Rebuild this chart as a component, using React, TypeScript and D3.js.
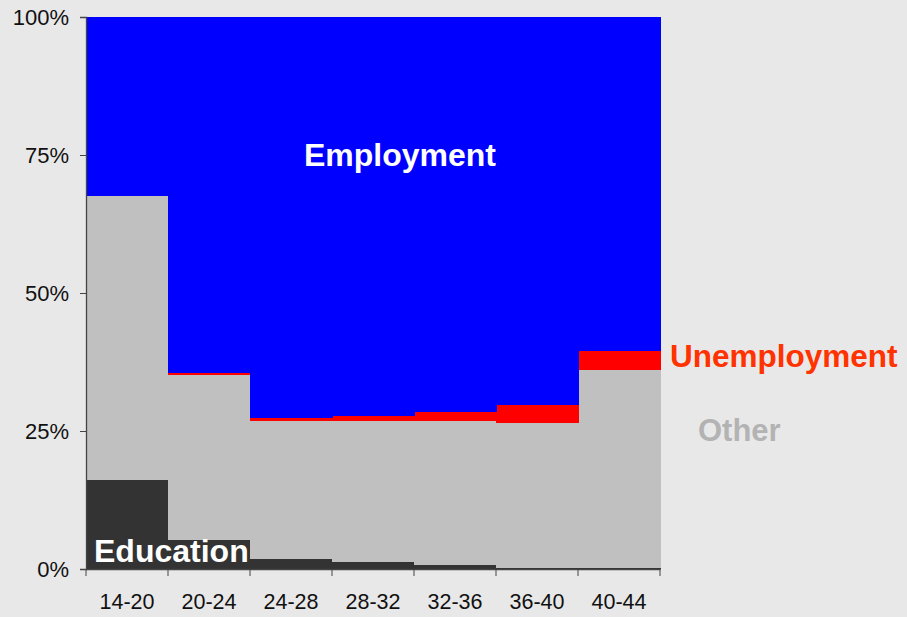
import React, { useRef, useEffect } from "react";
import * as d3 from "d3";

const categories = ["14-20", "20-24", "24-28", "28-32", "32-36", "36-40", "40-44"];
const education = [16.1, 5.25, 1.9, 1.3, 0.75, 0.2, 0.1];
const other = [51.5, 29.95, 24.9, 25.5, 26.05, 26.25, 35.95];
const unemployment = [0, 0.25, 0.55, 0.9, 1.6, 3.25, 3.45];
const yTicks = [0, 0.25, 0.5, 0.75, 1];

const keys = ["Education", "Other", "Unemployment", "Employment"];
const colors = ["#333333", "#c0c0c0", "#ff0000", "#0000ff"];

function App() {
  const svgRef = useRef(null);

  useEffect(() => {
    const svg = d3.select(svgRef.current);
    svg.selectAll("*").remove();

    const rows = categories.map((c, i) => ({
      cat: c,
      Education: education[i] / 100,
      Other: other[i] / 100,
      Unemployment: unemployment[i] / 100,
      Employment: (100 - education[i] - other[i] - unemployment[i]) / 100,
    }));

    const x = d3.scaleBand().domain(categories).range([86, 660]).padding(0);
    const y = d3.scaleLinear().domain([0, 1]).range([569, 17]);
    const color = d3.scaleOrdinal().domain(keys).range(colors);

    const series = d3.stack().keys(keys)(rows);

    svg
      .append("g")
      .selectAll("g")
      .data(series)
      .join("g")
      .attr("fill", (s) => color(s.key))
      .selectAll("rect")
      .data((s) => s)
      .join("rect")
      .attr("x", (d) => x(d.data.cat))
      .attr("y", (d) => y(d[1]))
      .attr("width", x.bandwidth() + 0.5)
      .attr("height", (d) => y(d[0]) - y(d[1]))
      .attr("shape-rendering", "crispEdges");

    const yAxis = svg
      .append("g")
      .attr("transform", "translate(86,0)")
      .call(
        d3.axisLeft(y).tickValues(yTicks).tickFormat(d3.format(".0%")).tickSize(6).tickPadding(11)
      );
    yAxis.selectAll("text").attr("font-size", 22).attr("fill", "#111");

    const xAxis = svg
      .append("g")
      .attr("transform", "translate(0,569)")
      .call(d3.axisBottom(x).tickSize(0).tickPadding(25));
    xAxis.selectAll("text").attr("font-size", 21.5).attr("fill", "#111");

    // boundary ticks between the bars
    const edges = categories.map((c) => x(c)).concat([x.range()[1]]);
    svg
      .append("g")
      .selectAll("line")
      .data(edges)
      .join("line")
      .attr("x1", (d) => d)
      .attr("x2", (d) => d)
      .attr("y1", 569)
      .attr("y2", 576)
      .attr("stroke", "#444");

    svg.selectAll(".domain").attr("stroke", "#444").attr("stroke-width", 1.3);
    svg.selectAll(".tick line").attr("stroke", "#444");
    svg.selectAll("text").attr("font-family", "'Liberation Sans', Arial, sans-serif");
  }, []);

  const labelFont = "'Liberation Sans', Arial, sans-serif";

  return (
    <svg
      width={907}
      height={617}
      style={{ position: "absolute", left: 0, top: 0, background: "#e8e8e8" }}
    >
      <g ref={svgRef} />
      <g fontFamily={labelFont} fontWeight="bold" fontSize={32}>
        <text x={400} y={166} textAnchor="middle" fill="#ffffff">Employment</text>
        <text x={94} y={562} fill="#ffffff">Education</text>
        <text x={670} y={367} fill="#ff3300" fontSize={31.5}>Unemployment</text>
        <text x={698} y={441} fill="#b3b3b3" fontSize={31}>Other</text>
      </g>
    </svg>
  );
}

export default App;
